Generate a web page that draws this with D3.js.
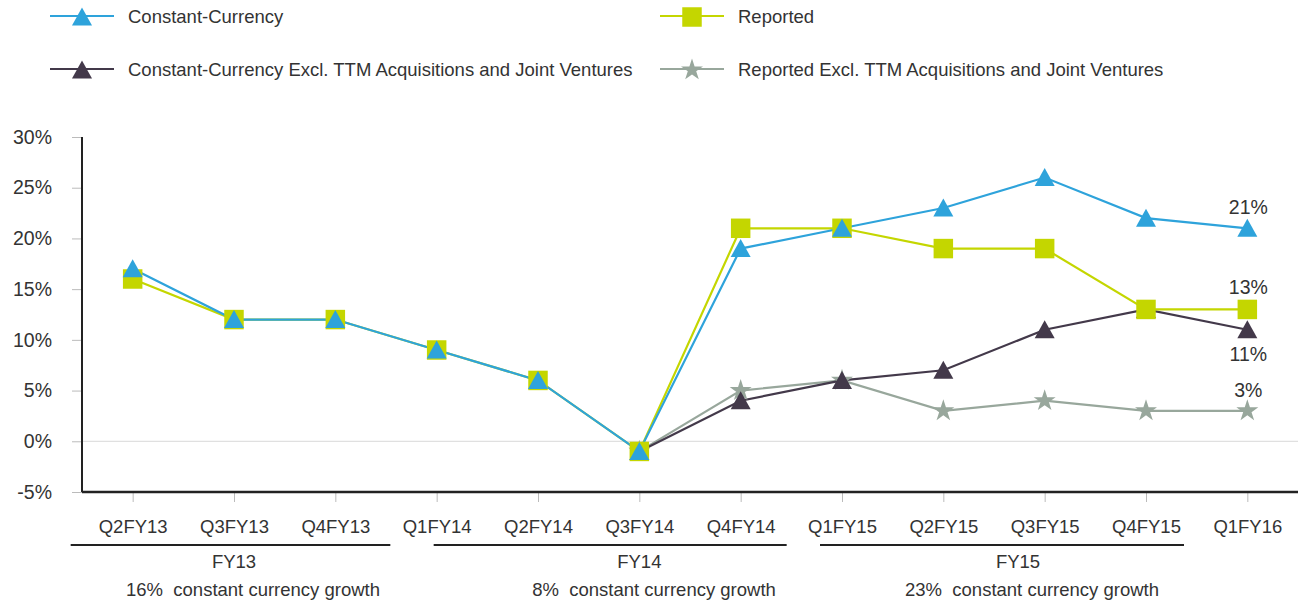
<!DOCTYPE html>
<html>
<head>
<meta charset="utf-8">
<script src="https://cdn.jsdelivr.net/npm/d3@7"></script>
<style>
  body { margin: 0; background: #fff; }
  text { font-family: "Liberation Sans", Arial, sans-serif; fill: #333; white-space: pre; }
</style>
</head>
<body>
<svg id="chart" width="1302" height="606"></svg>
<script>
// Quarters along the x axis
const quarters = ["Q2FY13", "Q3FY13", "Q4FY13", "Q1FY14", "Q2FY14", "Q3FY14",
  "Q4FY14", "Q1FY15", "Q2FY15", "Q3FY15", "Q4FY15", "Q1FY16"];
// Growth values in percent (null = no point)
const constantCurrency = [17, 12, 12, 9, 6, -1, 19, 21, 23, 26, 22, 21];
const reported = [16, 12, 12, 9, 6, -1, 21, 21, 19, 19, 13, 13];
const ccExcl = [null, null, null, null, null, -1, 4, 6, 7, 11, 13, 11];
const reportedExcl = [null, null, null, null, null, -1, 5, 6, 3, 4, 3, 3];
const yTicks = [-5, 0, 5, 10, 15, 20, 25, 30];
// Fiscal year groups: first and last quarter index
const fiscalYears = ["FY13", "FY14", "FY15"];
const fyRanges = [[0, 2], [3, 6], [7, 10]];
const growthNotes = ["16%  constant currency growth", "8%  constant currency growth", "23%  constant currency growth"];

const svg = d3.select("#chart");
const margin = { left: 82, right: 1298, top: 137, bottom: 492 };

const x = d3.scalePoint().domain(quarters).range([margin.left, margin.right]).padding(0.5);
const y = d3.scaleLinear().domain([-5, 30]).range([margin.bottom, margin.top]);

// zero line
svg.append("line")
  .attr("x1", margin.left).attr("x2", margin.right)
  .attr("y1", y(0)).attr("y2", y(0))
  .attr("stroke", "#d8d8d8").attr("stroke-width", 1);

// y axis
const yAxis = svg.append("g")
  .attr("transform", `translate(${margin.left},0)`)
  .call(d3.axisLeft(y).tickValues(yTicks).tickSize(10).tickPadding(20).tickFormat((d) => d + "%"));
yAxis.select(".domain").remove();
yAxis.selectAll(".tick line").attr("stroke", "#bbb");
yAxis.selectAll("text").attr("font-size", 19.5).attr("font-family", null).style("fill", "#333");
svg.append("line")
  .attr("x1", margin.left).attr("x2", margin.left)
  .attr("y1", margin.top).attr("y2", margin.bottom)
  .attr("stroke", "#222").attr("stroke-width", 2);

// x axis
const xAxis = svg.append("g")
  .attr("transform", `translate(0,${margin.bottom})`)
  .call(d3.axisBottom(x).tickSize(10));
xAxis.select(".domain").remove();
xAxis.selectAll(".tick line").attr("stroke", "#bbb");
xAxis.selectAll("text").attr("y", 41).attr("dy", null)
  .attr("font-size", 18.5).attr("font-family", null).style("fill", "#333");
svg.append("line")
  .attr("x1", margin.left).attr("x2", margin.right)
  .attr("y1", margin.bottom).attr("y2", margin.bottom)
  .attr("stroke", "#222").attr("stroke-width", 2.5);

// fiscal year brackets (offsets from first/last quarter tick)
const bracketPad = [[-62, 55], [-3, 46], [-22, 38]];
const fyCenter = [x(quarters[1]), x(quarters[5]), 1018];
const noteCenter = [253, 654, 1032];
fiscalYears.forEach((fy, i) => {
  const [a, b] = fyRanges[i];
  svg.append("line")
    .attr("x1", x(quarters[a]) + bracketPad[i][0])
    .attr("x2", x(quarters[b]) + bracketPad[i][1])
    .attr("y1", 545).attr("y2", 545)
    .attr("stroke", "#222").attr("stroke-width", 2);
  svg.append("text").attr("x", fyCenter[i]).attr("y", 568)
    .attr("text-anchor", "middle").attr("font-size", 18.5).text(fy);
  svg.append("text").attr("x", noteCenter[i]).attr("y", 596)
    .attr("text-anchor", "middle").attr("font-size", 18.5).text(growthNotes[i]);
});

// series
const series = [
  { name: "Reported Excl. TTM Acquisitions and Joint Ventures", values: reportedExcl, color: "#98a79c", symbol: d3.symbolStar, size: 150 },
  { name: "Constant-Currency Excl. TTM Acquisitions and Joint Ventures", values: ccExcl, color: "#43394a", symbol: "tri", size: 0 },
  { name: "Reported", values: reported, color: "#c4d600", symbol: d3.symbolSquare, size: 380 },
  { name: "Constant-Currency", values: constantCurrency, color: "#2ea3db", symbol: "tri", size: 0 }
];

const triPath = "M0,-9.5L10,8.5L-10,8.5Z";
function marker(g, s) {
  if (s.symbol === "tri") {
    g.append("path").attr("d", triPath).attr("fill", s.color);
  } else {
    g.append("path").attr("d", d3.symbol(s.symbol, s.size)()).attr("fill", s.color);
  }
}

const line = d3.line()
  .defined((d) => d != null)
  .x((d, i) => x(quarters[i]))
  .y((d) => y(d));

series.forEach((s) => {
  svg.append("path")
    .attr("d", line(s.values))
    .attr("fill", "none")
    .attr("stroke", s.color)
    .attr("stroke-width", 2.2);
});
series.forEach((s) => {
  s.values.forEach((v, i) => {
    if (v == null) return;
    const g = svg.append("g").attr("transform", `translate(${x(quarters[i])},${y(v)})`);
    marker(g, s);
  });
});

// end labels
const last = quarters[quarters.length - 1];
const endLabels = [
  { v: constantCurrency[11], dy: -14 },
  { v: reported[11], dy: -15 },
  { v: ccExcl[11], dy: 31 },
  { v: reportedExcl[11], dy: -14 }
];
endLabels.forEach((l) => {
  svg.append("text")
    .attr("x", x(last) + 1).attr("y", y(l.v) + l.dy)
    .attr("text-anchor", "middle").attr("font-size", 19.5)
    .text(l.v + "%");
});

// legend
const legendItems = [
  { s: series[3], x: 50, y: 16 },
  { s: series[2], x: 660, y: 16 },
  { s: series[1], x: 50, y: 69 },
  { s: series[0], x: 660, y: 69 }
];
legendItems.forEach((it) => {
  const g = svg.append("g").attr("transform", `translate(${it.x},${it.y})`);
  g.append("line").attr("x1", 0).attr("x2", 64).attr("y1", 0).attr("y2", 0)
    .attr("stroke", it.s.color).attr("stroke-width", 2.2);
  const m = g.append("g").attr("transform", "translate(32,1)");
  marker(m, it.s);
  g.append("text").attr("x", 78).attr("y", 0).attr("dy", "0.36em")
    .attr("font-size", 18.5).text(it.s.name);
});
</script>
</body>
</html>
